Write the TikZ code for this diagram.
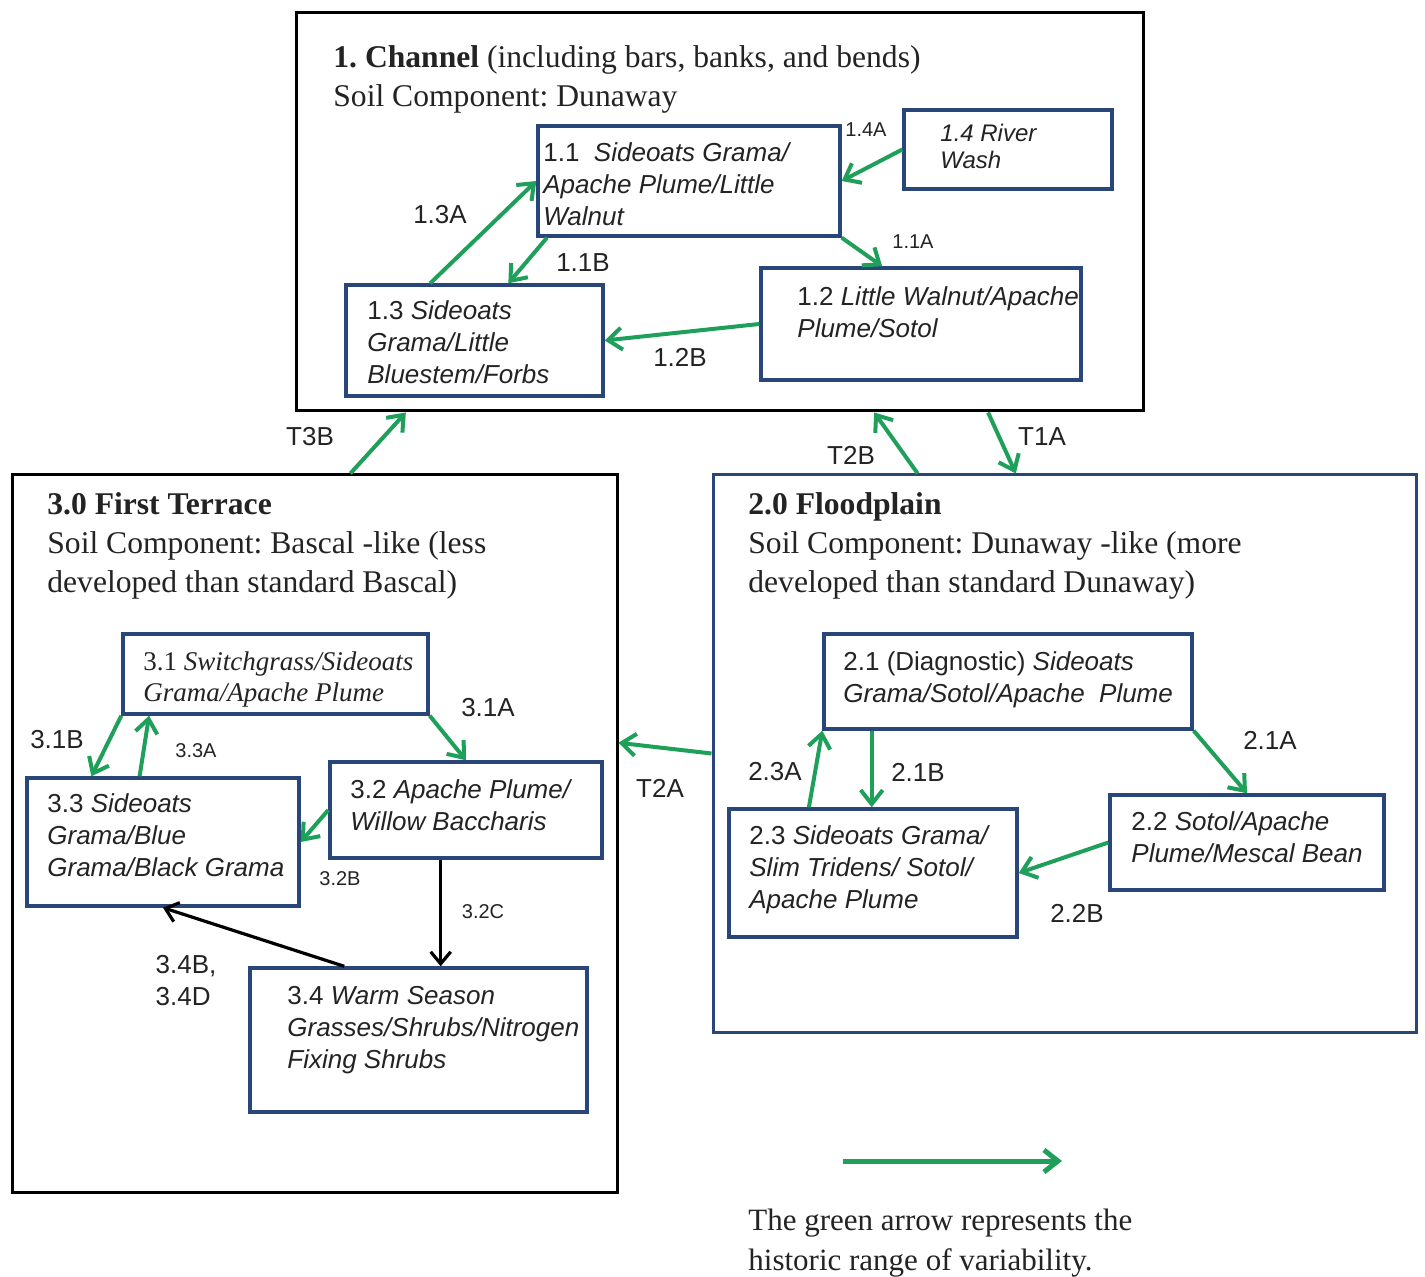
\documentclass[tikz,border=0pt]{standalone}
\usepackage{fontspec}
\setmainfont{Liberation Serif}
\newfontfamily\arialf{Liberation Sans}
\usetikzlibrary{arrows.meta,calc,fit}
\definecolor{gr}{RGB}{30,160,90}
\definecolor{navy}{RGB}{40,70,120}
\definecolor{txt}{RGB}{35,35,35}
\frenchspacing
\begin{document}
\frenchspacing
\begin{tikzpicture}[x=0.5pt,y=-0.5pt,
 frame/.style={draw=black,line width=1.5pt,inner sep=0pt},
 nframe/.style={draw=navy,line width=1.5pt,inner sep=0pt},
 box/.style={draw=navy,line width=1.7pt,inner sep=0pt},
 btext/.style={anchor=north west,inner sep=0pt,align=left,text=txt,font=\arialf\fontsize{13}{16}\selectfont},
 stext/.style={anchor=north west,inner sep=0pt,align=left,text=txt,font=\fontsize{13.5}{15.5}\selectfont},
 htext/.style={anchor=north west,inner sep=0pt,align=left,text=txt,font=\fontsize{15.8}{19.5}\selectfont},
 lab/.style={inner sep=0pt,text=txt,font=\arialf\fontsize{13}{16}\selectfont},
 slab/.style={inner sep=0pt,text=txt,font=\arialf\fontsize{10}{12}\selectfont},
 garr/.style={draw=gr,line width=2pt,-{Straight Barb[length=7pt,width=11pt]}},
 barr/.style={draw=black,line width=1.6pt,-{Straight Barb[length=6pt,width=10pt]}},
]
\useasboundingbox[fill=white] (0,0) rectangle (1425,1277);

% ---------- Channel ----------
\node[frame,fit={(296,13)(1143,411)}] (ch) {};
\node[htext] (chT) at (333,45) {\textbf{1. Channel} (including bars, banks, and bends)\\Soil Component: Dunaway};
\node[box,fit={(538,126)(840,236)}] (n11) {};
\node[btext] (t11) at (543,142) {1.1\ \ \textit{Sideoats Grama/}\\\textit{Apache Plume/Little}\\\textit{Walnut}};
\node[box,fit={(904,110)(1112,189)}] (n14) {};
\node[btext,font=\arialf\fontsize{12}{13.5}\selectfont] (t14) at (940,124) {\textit{1.4 River}\\\textit{Wash}};
\node[box,fit={(761,268)(1081,380)}] (n12) {};
\node[btext] (t12) at (797,286) {1.2 \textit{Little Walnut/Apache}\\\textit{Plume/Sotol}};
\node[box,fit={(346,285)(603,396)}] (n13) {};
\node[btext] (t13) at (367,300) {1.3 \textit{Sideoats}\\\textit{Grama/Little}\\\textit{Bluestem/Forbs}};

% ---------- First Terrace ----------
\node[frame,fit={(12,475)(617,1192)}] (ter) {};
\node[htext] (terT) at (47,492) {\textbf{3.0 First Terrace}\\Soil Component: Bascal -like (less\\developed than standard Bascal)};
\node[box,fit={(123,634)(428,714)}] (n31) {};
\node[stext] (t31) at (143,651) {3.1 \textit{Switchgrass/Sideoats}\\\textit{Grama/Apache Plume}};
\node[box,fit={(27,778)(299,906)}] (n33) {};
\node[btext] (t33) at (47,793) {3.3 \textit{Sideoats}\\\textit{Grama/Blue}\\\textit{Grama/Black Grama}};
\node[box,fit={(330,762)(602,858)}] (n32) {};
\node[btext] (t32) at (350,779) {3.2 \textit{Apache Plume/}\\\textit{Willow Baccharis}};
\node[box,fit={(250,968)(587,1112)}] (n34) {};
\node[btext] (t34) at (287,986) {3.4 \textit{Warm Season}\\\textit{Grasses/Shrubs/Nitrogen}\\\textit{Fixing Shrubs}};

% ---------- Floodplain ----------
\node[nframe,fit={(713,475)(1416,1032)}] (fp) {};
\node[htext] (fpT) at (748,492) {\textbf{2.0 Floodplain}\\Soil Component: Dunaway -like (more\\developed than standard Dunaway)};
\node[box,fit={(824,634)(1192,729)}] (n21) {};
\node[btext] (t21) at (843,651) {2.1 (Diagnostic) \textit{Sideoats}\\\textit{Grama/Sotol/Apache\ \ Plume}};
\node[box,fit={(729,809)(1017,937)}] (n23) {};
\node[btext] (t23) at (749,825) {2.3 \textit{Sideoats Grama/}\\\textit{Slim Tridens/ Sotol/}\\\textit{Apache Plume}};
\node[box,fit={(1110,795)(1384,890)}] (n22) {};
\node[btext] (t22) at (1131,811) {2.2 \textit{Sotol/Apache}\\\textit{Plume/Mescal Bean}};

% ---------- helper coordinates ----------
\coordinate (c32) at ($(n32.south west)!0.408!(n32.south east)$);
\coordinate (c21) at ($(n21.south west)!0.133!(n21.south east)$);

% ---------- arrows: channel ----------
\draw[garr] (n14.west) -- (n11.east);
\draw[garr] (n11.south east) -- ($(n12.north west)!0.38!(n12.north east)$);
\draw[garr] (n12.west) -- (n13.east);
\draw[garr] ($(n13.north west)!0.33!(n13.north east)$) -- (n11.west);
\draw[garr] ($(n11.south west)!0.035!(n11.south east)$) -- ($(n13.north west)!0.63!(n13.north east)$);

% ---------- arrows: transitions ----------
\draw[garr] ($(ter.north west)!0.559!(ter.north east)$) -- ($(ch.south west)!0.131!(ch.south east)$);
\draw[garr] ($(fp.north west)!0.292!(fp.north east)$) -- ($(ch.south west)!0.682!(ch.south east)$);
\draw[garr] ($(ch.south west)!0.816!(ch.south east)$) -- ($(fp.north west)!0.431!(fp.north east)$);
\draw[garr] (fp.west) -- ($(ter.north east)!0.374!(ter.south east)$);

% ---------- arrows: terrace ----------
\draw[garr] (n31.south west) -- ($(n33.north west)!0.24!(n33.north east)$);
\draw[garr] ($(n33.north west)!0.415!(n33.north east)$) -- ($(n31.south west)!0.09!(n31.south east)$);
\draw[garr] (n31.south east) -- (n32.north);
\draw[garr] (n32.west) -- (n33.east);
\draw[barr] (c32) -- (c32 |- n34.north);
\draw[barr] ($(n34.north west)!0.282!(n34.north east)$) -- (n33.south);

% ---------- arrows: floodplain ----------
\draw[garr] (n21.south east) -- (n22.north);
\draw[garr] (n22.west) -- (n23.east);
\draw[garr] (c21) -- (c21 |- n23.north);
\draw[garr] ($(n23.north west)!0.28!(n23.north east)$) -- (n21.south west);

% ---------- labels ----------
\node[slab] (l14A) at (866,130) {1.4A};
\node[slab] (l11A) at (913,242) {1.1A};
\node[lab] (l12B) at (680,357) {1.2B};
\node[lab] (l13A) at (440,215) {1.3A};
\node[lab] (l11B) at (583,263) {1.1B};
\node[lab] (lT3B) at (310,437) {T3B};
\node[lab] (lT2B) at (851,455) {T2B};
\node[lab] (lT1A) at (1042,437) {T1A};
\node[lab] (lT2A) at (660,788) {T2A};
\node[lab] (l31B) at (57,740) {3.1B};
\node[slab] (l33A) at (196,751) {3.3A};
\node[lab] (l31A) at (488,708) {3.1A};
\node[slab] (l32B) at (340,879) {3.2B};
\node[slab] (l32C) at (483,912) {3.2C};
\node[lab,align=left] (l34B) at (186,981) {3.4B,\\3.4D};
\node[lab] (l21A) at (1270,740) {2.1A};
\node[lab] (l21B) at (918,772) {2.1B};
\node[lab] (l23A) at (775,772) {2.3A};
\node[lab] (l22B) at (1077,913) {2.2B};

% ---------- legend ----------
\coordinate (legA) at (843,1161);
\coordinate (legB) at (1062,1161);
\draw[garr,line width=2.5pt] (legA) -- (legB);
\node[htext,font=\fontsize{15.5}{20}\selectfont] (legT) at (748,1209) {The green arrow represents the\\historic range of variability.};
\end{tikzpicture}
\end{document}
